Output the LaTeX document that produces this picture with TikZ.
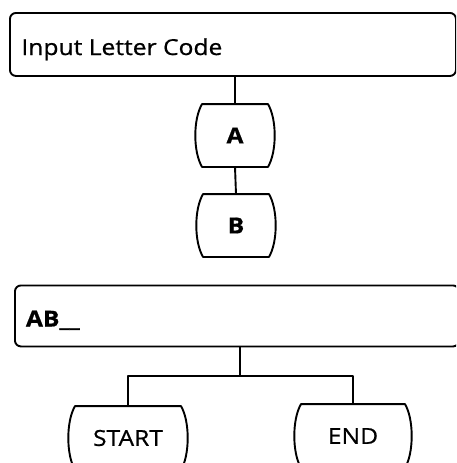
\documentclass[tikz,border=0pt]{standalone}
\usepackage{fontspec}
\setmainfont{Open Sans}[FakeStretch=1.12, FakeBold=0.7]
\newcommand\barrelshape[1]{%
  \draw (#1.north west) -- (#1.north east)
    .. controls +(9,15) and +(9,-15) .. (#1.south east)
    -- (#1.south west)
    .. controls +(-9,-15) and +(-9,15) .. (#1.north west) -- cycle;}
\begin{document}
\begin{tikzpicture}[x=1pt,y=-1pt, line width=1.9pt, line join=round,
  box/.style={draw, rounded corners=6pt, inner sep=0pt, anchor=north west},
  lbl/.style={font=\fontsize{22}{26}\selectfont, inner sep=0pt, anchor=base west},
  blbl/.style={font=\fontsize{22}{26}\selectfont\bfseries, inner sep=0pt, anchor=base west},
  hold/.style={inner sep=0pt, minimum width=64pt, minimum height=61pt},
  btxt/.style={hold, font=\fontsize{22}{26}\selectfont\bfseries},
  rtxt/.style={hold, font=\fontsize{22}{26}\selectfont}]
\useasboundingbox (0,0) rectangle (456,463);
\clip (0,0) rectangle (456,463);
% input box
\node[box, minimum width=446pt, minimum height=63pt] (inp) at (9,12) {};
\node[lbl] (t1) at (20.5,55) {Input Letter Code};
% A and B
\node[btxt] (A) at (235,135.5) {\raisebox{-3pt}{A}};
\node[btxt] (B) at (236,225.5) {B};
\barrelshape{A}
\barrelshape{B}
\draw (A.north |- inp.south) -- (A.north);
\draw (A.south) -- (B.north);
% AB box
\node[box, minimum width=444pt, minimum height=61pt] (ab) at (14,284.5) {};
\node[blbl] (t2) at (25,326.5) {AB\_\_};
% START / END
\node[rtxt, minimum width=104pt, minimum height=62pt] (S) at (128,438) {START};
\node[rtxt, minimum width=102pt, minimum height=62pt] (E) at (353,436) {END};
\barrelshape{S}
\barrelshape{E}
\coordinate (j) at (240,376);
\draw (ab.south -| j) -- (j);
\draw (S.north) -- (S.north |- j) -- (E.north |- j) -- (E.north);
\end{tikzpicture}
\end{document}
